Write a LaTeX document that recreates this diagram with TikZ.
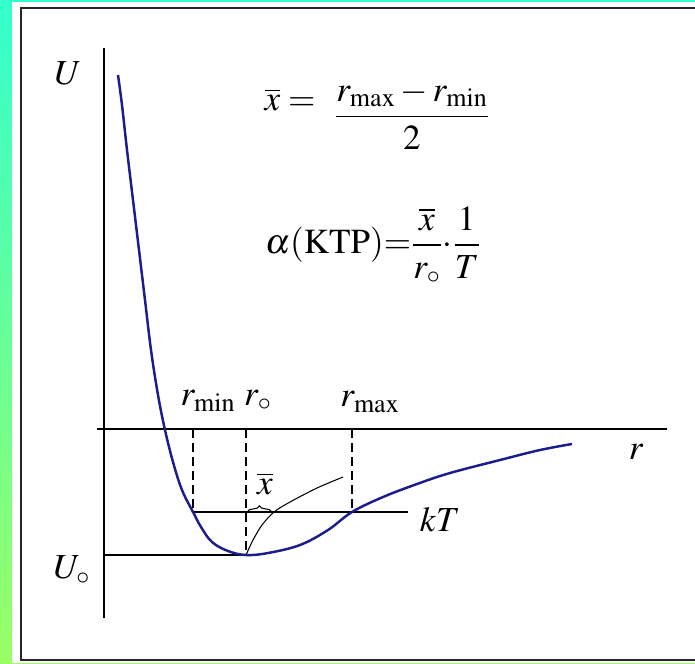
\documentclass[tikz,border=0pt]{standalone}
\usepackage{mathptmx}
\usepackage{fontspec}
\setmainfont{Liberation Serif}
\usetikzlibrary{decorations.pathreplacing}

\definecolor{topcyan}{RGB}{51,255,204}
\definecolor{botgreen}{RGB}{153,255,102}
\definecolor{curveblue}{RGB}{28,28,140}

\tikzset{
  lab/.style={font=\fontsize{20}{24}\selectfont,inner sep=0pt},
  dashline/.style={dash pattern=on 5pt off 3pt,line width=0.6pt},
  thinline/.style={line width=0.6pt},
}

\begin{document}
\begin{tikzpicture}[x=0.02cm,y=-0.02cm]
\useasboundingbox (0,0) rectangle (695,663);
\clip (0,0) rectangle (695,663);
\shade[top color=topcyan,bottom color=botgreen] (0,0) rectangle (695,663);
\fill[white] (12,2) rectangle (700,663);
\draw[line width=1.5pt,black!85] (700,8) -- (21,8) -- (21,660) -- (700,660);

\coordinate (Utop) at (104,48);
\coordinate (Ubot) at (104,618);
\coordinate (Rleft) at (97,429);
\coordinate (Rright) at (667,429);
\coordinate (Amin) at (193,429);
\coordinate (Azero) at (246,429);
\coordinate (Amax) at (352,429);
\coordinate (Kmin) at (193,512);
\coordinate (Kmax) at (352,512);
\coordinate (Kend) at (408,512);
\coordinate (Bottom) at (246,555);
\coordinate (Uzero) at (104,555);
\coordinate (Bl) at (247,512);
\coordinate (Br) at (272,512);

% axes
\draw[line width=0.8pt] (Utop)--(Ubot);
\draw[line width=1.3pt] (Rleft)--(Rright);

% levels
\draw[thinline] (Uzero)--(Bottom);
\draw[thinline] (Kmin)--(Kend);
\draw[dashline] (Amin)--(Kmin);
\draw[dashline] (Azero)--(Bottom);
\draw[dashline] (Amax)--(Kmax);

% potential
\draw[curveblue,line width=1.4pt] plot[smooth,tension=0.6] coordinates {
 (118,75) (122,105) (127,150) (133,200) (139,250) (145,300) (151,350)
 (158,395) (165,430) (173,462) (182,490) (193,512) (201,527) (212,542)
 (228,551) (246,555) (268,553) (300,545) (328,530) (352,512) (383,497)
 (417,484) (450,473) (500,460) (540,450) (572,444)};

% midpoints
\draw[thinline] plot[smooth] coordinates {
 (Bottom) (253,540) (262,525) (274,512) (290,502) (317,488) (343,477)};
\draw[thinline,decorate,decoration={brace,amplitude=3.5pt}] (Bl)--(Br);

\node[lab] (ulab) at (68,73) {$U$};
\node[lab] (rlab) at (636,452) {$r$};
\node[lab] (u0lab) at (72,570) {$U_\circ$};
\node[lab] (rminlab) at (208,401) {$r_{\min}$};
\node[lab] (r0lab) at (258,400) {$r_\circ$};
\node[lab] (rmaxlab) at (370,402) {$r_{\max}$};
\node[lab] (kTlab) at (440,520) {$kT$};
\node[lab] (xbarlab) at (265,484) {$\overline{x}$};
\node[lab] (xdef) at (290,100) {$\overline{x} =$};
\node[lab] (xfrac) at (412,115) {$\displaystyle\frac{r_{\max}-r_{\min}}{2}$};
\node[lab] (alpha) at (373,245) {$\alpha(\mathrm{KTP}){=}\displaystyle\frac{\overline{x}}{r_\circ}{\cdot}\frac{1}{T}$};
\end{tikzpicture}
\end{document}
